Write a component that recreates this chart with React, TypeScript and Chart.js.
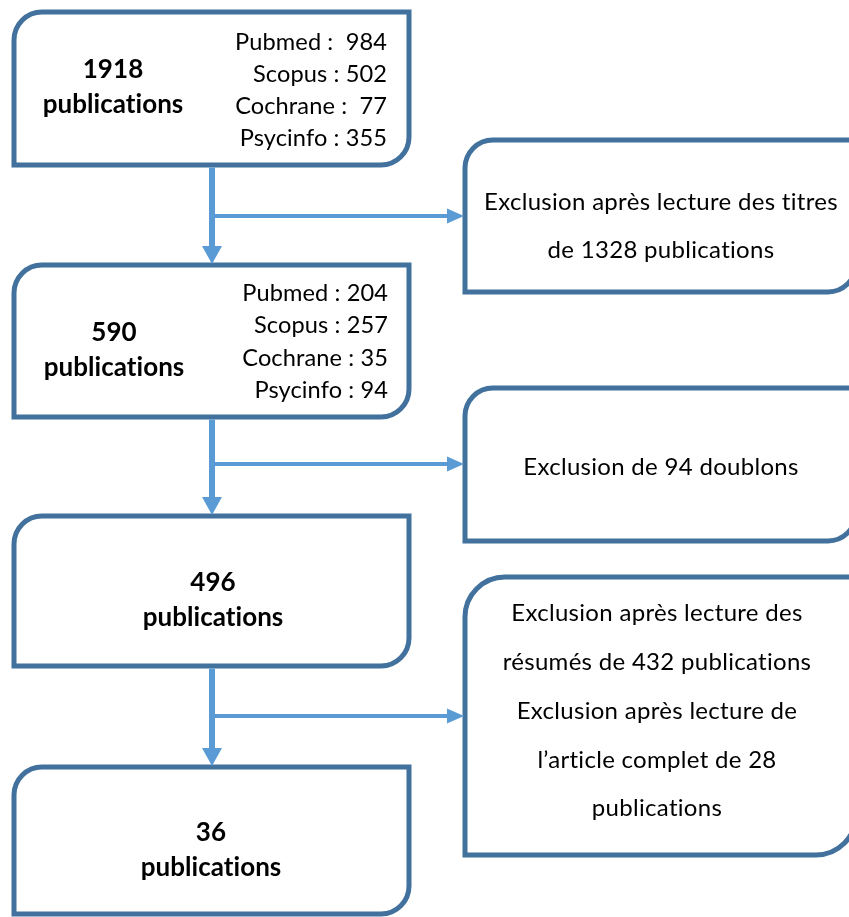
import React, { useEffect, useRef } from 'react';
import { Chart, registerables } from 'chart.js';

Chart.register(...registerables);

// ---------- data ----------
const stageTotals = [1918, 590, 496, 36];
const stageUnit = 'publications';
const sourceNames = ['Pubmed', 'Scopus', 'Cochrane', 'Psycinfo'];
const stage1Sources = [984, 502, 77, 355];
const stage2Sources = [204, 257, 35, 94];
const stage1Separators = [' :  ', ' : ', ' :  ', ' : '];
const stage2Separators = [' : ', ' : ', ' : ', ' : '];
const exclusionLines = [
  ['Exclusion après lecture des titres', 'de 1328 publications'],
  ['Exclusion de 94 doublons'],
  [
    'Exclusion après lecture des',
    'résumés de 432 publications',
    'Exclusion après lecture de',
    'l’article complet de 28',
    'publications',
  ],
];

// ---------- layout (scale units) ----------
const LEFT_BOXES = [
  { x0: 14, y0: 12, x1: 409, y1: 165, r: 28, tx: 113, ty: [70, 105], sx: 387, sy: [42, 74, 106, 138] },
  { x0: 14, y0: 265, x1: 409, y1: 417, r: 28, tx: 114, ty: [333, 368], sx: 388, sy: [293, 325, 358, 390] },
  { x0: 14, y0: 516, x1: 409, y1: 666, r: 28, tx: 213, ty: [583, 618] },
  { x0: 14, y0: 767, x1: 409, y1: 914, r: 28, tx: 211, ty: [833, 868] },
];
const RIGHT_BOXES = [
  { x0: 465, y0: 140, x1: 856, y1: 292, r: 28, tx: 661, ty: [202, 250] },
  { x0: 465, y0: 388, x1: 856, y1: 541, r: 28, tx: 661, ty: [467] },
  { x0: 465, y0: 577, x1: 856, y1: 855, r: 40, tx: 657, ty: [613, 662, 711, 760, 808] },
];
const CONNECTOR_X = 212;
const BRANCH_Y = [216, 464, 716];

const BOX_STROKE = '#41719C';
const ARROW_COLOR = '#5B9BD5';
const FONT = 'Lato, "Open Sans", sans-serif';

const flowPlugin = {
  id: 'flow',
  afterDraw(chart: any) {
    const ctx: any = chart.ctx;
    const xs = chart.scales.x;
    const ys = chart.scales.y;
    const X = (v: number) => xs.getPixelForValue(v);
    const Y = (v: number) => ys.getPixelForValue(v);

    const drawBox = (b: any) => {
      const x0 = X(b.x0), x1 = X(b.x1), y0 = Y(b.y0), y1 = Y(b.y1), r = b.r;
      ctx.save();
      ctx.beginPath();
      ctx.moveTo(x0 + r, y0);
      ctx.lineTo(x1, y0);
      ctx.lineTo(x1, y1 - r);
      ctx.arcTo(x1, y1, x1 - r, y1, r);
      ctx.lineTo(x0, y1);
      ctx.lineTo(x0, y0 + r);
      ctx.arcTo(x0, y0, x0 + r, y0, r);
      ctx.closePath();
      ctx.fillStyle = '#ffffff';
      ctx.fill();
      ctx.lineWidth = 5;
      ctx.strokeStyle = BOX_STROKE;
      ctx.lineJoin = 'miter';
      ctx.stroke();
      ctx.restore();
    };

    [...LEFT_BOXES, ...RIGHT_BOXES].forEach(drawBox);

    // connectors
    ctx.save();
    ctx.strokeStyle = ARROW_COLOR;
    ctx.fillStyle = ARROW_COLOR;
    const cx = X(CONNECTOR_X);
    for (let i = 0; i < LEFT_BOXES.length - 1; i++) {
      const top = Y(LEFT_BOXES[i].y1) + 2.5;
      const tip = Y(LEFT_BOXES[i + 1].y0) - 1;
      ctx.lineWidth = 6;
      ctx.beginPath();
      ctx.moveTo(cx, top);
      ctx.lineTo(cx, tip - 16);
      ctx.stroke();
      ctx.beginPath();
      ctx.moveTo(cx - 10, tip - 18);
      ctx.lineTo(cx + 10, tip - 18);
      ctx.lineTo(cx, tip);
      ctx.closePath();
      ctx.fill();

      const by = Y(BRANCH_Y[i]);
      const htip = X(RIGHT_BOXES[i].x0) - 1;
      ctx.lineWidth = 4;
      ctx.beginPath();
      ctx.moveTo(cx + 3, by);
      ctx.lineTo(htip - 15, by);
      ctx.stroke();
      ctx.beginPath();
      ctx.moveTo(htip - 17, by - 7.5);
      ctx.lineTo(htip - 17, by + 7.5);
      ctx.lineTo(htip, by);
      ctx.closePath();
      ctx.fill();
    }
    ctx.restore();

    // text
    ctx.save();
    ctx.fillStyle = '#000000';
    ctx.textBaseline = 'middle';
    ctx.textRendering = 'optimizeSpeed';
    LEFT_BOXES.forEach((b, i) => {
      ctx.font = `bold 26px ${FONT}`;
      ctx.letterSpacing = '0.05px';
      ctx.textAlign = 'center';
      ctx.fillText(String(stageTotals[i]), X(b.tx), Y(b.ty[0]));
      ctx.fillText(stageUnit, X(b.tx), Y(b.ty[1]));
      const src = i === 0 ? stage1Sources : i === 1 ? stage2Sources : null;
      const sep = i === 0 ? stage1Separators : stage2Separators;
      if (src && b.sx) {
        ctx.font = `23.6px ${FONT}`;
        ctx.letterSpacing = '0.1px';
        ctx.textAlign = 'right';
        sourceNames.forEach((n, k) => {
          ctx.fillText(`${n}${sep[k]}${src[k]}`, X(b.sx), Y(b.sy[k]));
        });
      }
    });
    RIGHT_BOXES.forEach((b, i) => {
      ctx.font = `24px ${FONT}`;
      ctx.letterSpacing = '0.3px';
      ctx.textAlign = 'center';
      exclusionLines[i].forEach((t, k) => {
        ctx.fillText(t, X(b.tx), Y(b.ty[k]));
      });
    });
    ctx.restore();
  },
};

export default function App() {
  const ref = useRef<HTMLCanvasElement | null>(null);
  useEffect(() => {
    document.body.style.margin = '0';
    if (!ref.current) return;
    const chart = new Chart(ref.current, {
      type: 'scatter',
      data: { datasets: [{ data: [], pointRadius: 0 }] },
      options: {
        responsive: false,
        animation: false,
        events: [],
        layout: { padding: 0 },
        plugins: { legend: { display: false }, tooltip: { enabled: false } },
        scales: {
          x: { type: 'linear', min: 0, max: 849, display: false },
          y: { type: 'linear', min: 0, max: 917, reverse: true, display: false },
        },
      },
      plugins: [flowPlugin],
    });
    return () => chart.destroy();
  }, []);
  return (
    <div style={{ width: 849, height: 917, background: '#ffffff' }}>
      <canvas ref={ref} width={849} height={917} style={{ display: 'block', width: 849, height: 917 }} />
    </div>
  );
}
